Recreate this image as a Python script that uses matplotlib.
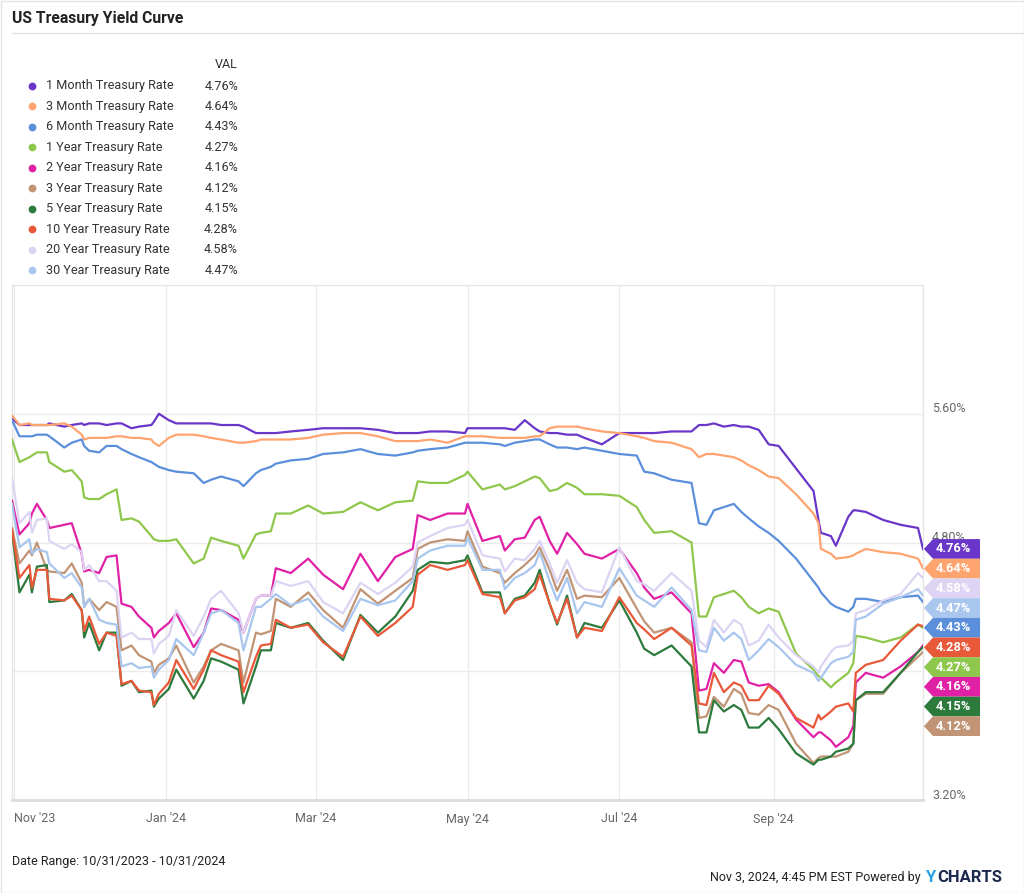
import matplotlib
matplotlib.use("Agg")
import matplotlib.pyplot as plt
from matplotlib.patches import Polygon
from matplotlib.transforms import blended_transform_factory
import pandas as pd

plt.rcParams["font.family"] = ["Roboto", "DejaVu Sans"]

dates = pd.to_datetime([
    "2023-10-31", "2023-11-03", "2023-11-07", "2023-11-08", "2023-11-10", "2023-11-14", "2023-11-15", "2023-11-21", "2023-11-24", "2023-11-28",
    "2023-11-29", "2023-12-01", "2023-12-05", "2023-12-08", "2023-12-12", "2023-12-14", "2023-12-18", "2023-12-21", "2023-12-26", "2023-12-27",
    "2023-12-29", "2024-01-02", "2024-01-05", "2024-01-12", "2024-01-16", "2024-01-19", "2024-01-23", "2024-01-30", "2024-02-01", "2024-02-06",
    "2024-02-08", "2024-02-12", "2024-02-14", "2024-02-20", "2024-02-27", "2024-03-04", "2024-03-12", "2024-03-19", "2024-03-26", "2024-04-02",
    "2024-04-09", "2024-04-11", "2024-04-16", "2024-04-23", "2024-04-30", "2024-05-01", "2024-05-07", "2024-05-14", "2024-05-16", "2024-05-20",
    "2024-05-24", "2024-05-28", "2024-05-30", "2024-06-03", "2024-06-06", "2024-06-10", "2024-06-14", "2024-06-17", "2024-06-24", "2024-07-01",
    "2024-07-08", "2024-07-11", "2024-07-15", "2024-07-22", "2024-07-30", "2024-08-02", "2024-08-05", "2024-08-08", "2024-08-12", "2024-08-16",
    "2024-08-19", "2024-08-22", "2024-08-26", "2024-08-30", "2024-09-03", "2024-09-10", "2024-09-17", "2024-09-19", "2024-09-20", "2024-09-24",
    "2024-09-26", "2024-10-01", "2024-10-03", "2024-10-04", "2024-10-08", "2024-10-15", "2024-10-22", "2024-10-29", "2024-10-31",
])

rate_1m = [
    5.57, 5.53, 5.53, 5.53, 5.53, 5.53, 5.54, 5.52, 5.53, 5.54,
    5.53, 5.54, 5.54, 5.53, 5.54, 5.54, 5.51, 5.52, 5.53, 5.55,
    5.60, 5.56, 5.54, 5.54, 5.54, 5.54, 5.53, 5.53, 5.52, 5.48,
    5.48, 5.48, 5.48, 5.49, 5.50, 5.51, 5.51, 5.51, 5.50, 5.48,
    5.48, 5.48, 5.49, 5.49, 5.48, 5.51, 5.51, 5.51, 5.51, 5.50,
    5.56, 5.51, 5.49, 5.48, 5.48, 5.47, 5.47, 5.45, 5.41, 5.48,
    5.48, 5.48, 5.48, 5.49, 5.49, 5.53, 5.53, 5.54, 5.52, 5.53,
    5.52, 5.52, 5.50, 5.41, 5.40, 5.26, 5.12, 4.94, 4.86, 4.84,
    4.78, 4.96, 5.00, 5.00, 4.99, 4.94, 4.91, 4.89, 4.76,
]
rate_3m = [
    5.59, 5.53, 5.54, 5.53, 5.53, 5.53, 5.53, 5.54, 5.52, 5.47,
    5.44, 5.45, 5.45, 5.45, 5.46, 5.46, 5.45, 5.45, 5.44, 5.42,
    5.40, 5.45, 5.47, 5.47, 5.46, 5.45, 5.44, 5.42, 5.42, 5.43,
    5.44, 5.44, 5.44, 5.44, 5.45, 5.47, 5.48, 5.48, 5.46, 5.43,
    5.43, 5.43, 5.44, 5.42, 5.46, 5.46, 5.46, 5.45, 5.45, 5.45,
    5.45, 5.46, 5.46, 5.51, 5.52, 5.52, 5.52, 5.51, 5.49, 5.48,
    5.46, 5.45, 5.43, 5.42, 5.38, 5.33, 5.35, 5.35, 5.34, 5.33,
    5.31, 5.28, 5.25, 5.21, 5.20, 5.10, 4.98, 4.92, 4.76, 4.73,
    4.70, 4.71, 4.72, 4.73, 4.76, 4.74, 4.73, 4.70, 4.64,
]
rate_6m = [
    5.56, 5.46, 5.46, 5.46, 5.47, 5.47, 5.46, 5.39, 5.42, 5.44,
    5.40, 5.37, 5.36, 5.40, 5.40, 5.38, 5.35, 5.33, 5.30, 5.29,
    5.27, 5.25, 5.24, 5.23, 5.17, 5.19, 5.21, 5.18, 5.15, 5.23,
    5.25, 5.27, 5.29, 5.31, 5.32, 5.35, 5.36, 5.38, 5.35, 5.34,
    5.36, 5.37, 5.38, 5.39, 5.42, 5.42, 5.42, 5.41, 5.40, 5.42,
    5.43, 5.44, 5.44, 5.41, 5.39, 5.39, 5.38, 5.39, 5.37, 5.35,
    5.34, 5.24, 5.23, 5.19, 5.17, 4.92, 4.91, 5.00, 5.02, 5.04,
    4.99, 4.95, 4.90, 4.86, 4.81, 4.70, 4.56, 4.52, 4.49, 4.42,
    4.40, 4.37, 4.40, 4.45, 4.45, 4.43, 4.46, 4.47, 4.43,
]
rate_1y = [
    5.44, 5.30, 5.33, 5.34, 5.36, 5.36, 5.30, 5.24, 5.25, 5.18,
    5.08, 5.07, 5.07, 5.10, 5.13, 4.94, 4.95, 4.93, 4.84, 4.82,
    4.81, 4.81, 4.82, 4.67, 4.70, 4.83, 4.81, 4.78, 4.70, 4.85,
    4.86, 4.87, 4.98, 4.98, 5.03, 4.98, 4.99, 5.05, 5.00, 5.05,
    5.06, 5.18, 5.17, 5.17, 5.22, 5.24, 5.13, 5.16, 5.13, 5.15,
    5.18, 5.21, 5.20, 5.12, 5.13, 5.17, 5.14, 5.10, 5.10, 5.09,
    5.02, 4.94, 4.86, 4.87, 4.80, 4.34, 4.34, 4.46, 4.48, 4.50,
    4.46, 4.40, 4.36, 4.39, 4.37, 4.11, 4.01, 3.97, 3.96, 3.90,
    3.93, 3.99, 4.05, 4.22, 4.21, 4.18, 4.21, 4.29, 4.27,
]
rate_2y = [
    5.06, 4.85, 4.92, 4.98, 5.04, 4.94, 4.89, 4.91, 4.92, 4.73,
    4.62, 4.63, 4.61, 4.71, 4.72, 4.42, 4.40, 4.34, 4.27, 4.21,
    4.25, 4.30, 4.36, 4.15, 4.24, 4.39, 4.38, 4.32, 4.24, 4.45,
    4.47, 4.47, 4.64, 4.61, 4.70, 4.60, 4.51, 4.73, 4.56, 4.71,
    4.76, 4.97, 4.94, 4.98, 4.98, 5.04, 4.81, 4.84, 4.75, 4.82,
    4.83, 4.94, 4.96, 4.81, 4.73, 4.86, 4.79, 4.73, 4.70, 4.76,
    4.61, 4.52, 4.45, 4.49, 4.36, 3.88, 3.89, 4.05, 3.99, 4.07,
    4.06, 3.93, 3.91, 3.92, 3.87, 3.70, 3.59, 3.62, 3.62, 3.57,
    3.53, 3.59, 3.66, 3.93, 3.99, 3.96, 4.03, 4.12, 4.16,
]
rate_3y = [
    4.89, 4.67, 4.75, 4.72, 4.80, 4.63, 4.62, 4.61, 4.67, 4.55,
    4.40, 4.45, 4.38, 4.43, 4.40, 4.13, 4.16, 4.10, 4.06, 3.99,
    4.04, 4.08, 4.16, 3.93, 4.03, 4.13, 4.17, 4.13, 3.93, 4.24,
    4.23, 4.25, 4.45, 4.40, 4.49, 4.38, 4.27, 4.51, 4.42, 4.50,
    4.58, 4.76, 4.80, 4.82, 4.81, 4.87, 4.65, 4.61, 4.55, 4.61,
    4.66, 4.72, 4.77, 4.63, 4.50, 4.63, 4.45, 4.47, 4.46, 4.58,
    4.39, 4.31, 4.24, 4.27, 4.18, 3.71, 3.72, 3.84, 3.78, 3.89,
    3.86, 3.74, 3.73, 3.79, 3.76, 3.55, 3.43, 3.46, 3.47, 3.47,
    3.47, 3.50, 3.55, 3.82, 3.86, 3.86, 3.99, 4.09, 4.12,
]
rate_5y = [
    4.87, 4.49, 4.60, 4.49, 4.65, 4.66, 4.43, 4.44, 4.48, 4.38,
    4.21, 4.30, 4.13, 4.24, 4.24, 3.91, 3.94, 3.87, 3.88, 3.78,
    3.83, 3.89, 4.01, 3.83, 3.94, 4.08, 4.06, 4.01, 3.80, 4.03,
    4.13, 4.13, 4.30, 4.27, 4.30, 4.19, 4.07, 4.35, 4.24, 4.34,
    4.50, 4.63, 4.68, 4.67, 4.69, 4.72, 4.49, 4.49, 4.36, 4.45,
    4.47, 4.55, 4.63, 4.42, 4.29, 4.47, 4.21, 4.30, 4.27, 4.44,
    4.24, 4.14, 4.10, 4.16, 4.03, 3.62, 3.62, 3.82, 3.75, 3.79,
    3.76, 3.65, 3.65, 3.71, 3.64, 3.49, 3.42, 3.45, 3.45, 3.47,
    3.50, 3.52, 3.55, 3.82, 3.87, 3.87, 3.99, 4.12, 4.15,
]
rate_10y = [
    4.88, 4.58, 4.66, 4.52, 4.63, 4.63, 4.45, 4.44, 4.47, 4.38,
    4.25, 4.34, 4.17, 4.24, 4.22, 3.92, 3.94, 3.88, 3.87, 3.79,
    3.86, 3.93, 4.07, 3.89, 4.01, 4.13, 4.10, 4.06, 3.87, 4.09,
    4.16, 4.17, 4.32, 4.27, 4.29, 4.18, 4.09, 4.34, 4.22, 4.30,
    4.40, 4.60, 4.66, 4.63, 4.66, 4.69, 4.48, 4.46, 4.36, 4.44,
    4.46, 4.51, 4.60, 4.42, 4.30, 4.45, 4.21, 4.27, 4.25, 4.46,
    4.30, 4.26, 4.20, 4.27, 4.16, 3.80, 3.79, 3.99, 3.87, 3.93,
    3.91, 3.82, 3.82, 3.91, 3.86, 3.71, 3.65, 3.73, 3.70, 3.75,
    3.78, 3.80, 3.75, 3.99, 4.04, 4.07, 4.19, 4.29, 4.28,
]
rate_20y = [
    5.20, 4.92, 4.99, 4.86, 4.94, 4.95, 4.81, 4.76, 4.79, 4.74,
    4.63, 4.66, 4.56, 4.56, 4.50, 4.21, 4.24, 4.20, 4.20, 4.11,
    4.17, 4.22, 4.38, 4.22, 4.34, 4.45, 4.50, 4.36, 4.24, 4.45,
    4.47, 4.47, 4.56, 4.53, 4.56, 4.43, 4.36, 4.55, 4.48, 4.55,
    4.65, 4.80, 4.84, 4.89, 4.91, 4.94, 4.72, 4.70, 4.62, 4.70,
    4.69, 4.76, 4.81, 4.67, 4.55, 4.69, 4.55, 4.51, 4.49, 4.77,
    4.56, 4.54, 4.50, 4.61, 4.50, 4.19, 4.15, 4.32, 4.24, 4.32,
    4.29, 4.16, 4.19, 4.29, 4.21, 4.10, 4.03, 3.99, 4.03, 4.12,
    4.15, 4.16, 4.19, 4.36, 4.38, 4.44, 4.48, 4.61, 4.58,
]
rate_30y = [
    5.04, 4.77, 4.82, 4.73, 4.76, 4.74, 4.67, 4.58, 4.61, 4.52,
    4.40, 4.45, 4.32, 4.30, 4.29, 4.03, 4.05, 4.02, 4.03, 3.96,
    4.01, 4.07, 4.20, 4.10, 4.24, 4.36, 4.38, 4.30, 4.13, 4.40,
    4.40, 4.45, 4.48, 4.41, 4.45, 4.34, 4.25, 4.45, 4.41, 4.44,
    4.56, 4.70, 4.75, 4.78, 4.78, 4.83, 4.63, 4.63, 4.51, 4.58,
    4.61, 4.66, 4.74, 4.56, 4.44, 4.58, 4.36, 4.43, 4.40, 4.64,
    4.47, 4.44, 4.40, 4.52, 4.38, 4.13, 4.12, 4.27, 4.19, 4.24,
    4.20, 4.07, 4.13, 4.20, 4.15, 4.04, 3.99, 3.94, 3.96, 4.05,
    4.07, 4.09, 4.12, 4.32, 4.34, 4.42, 4.46, 4.51, 4.47,
]

series_names = [
    "1 Month Treasury Rate", "3 Month Treasury Rate", "6 Month Treasury Rate",
    "1 Year Treasury Rate", "2 Year Treasury Rate", "3 Year Treasury Rate",
    "5 Year Treasury Rate", "10 Year Treasury Rate", "20 Year Treasury Rate",
    "30 Year Treasury Rate",
]
series_values = [rate_1m, rate_3m, rate_6m, rate_1y, rate_2y, rate_3y,
                 rate_5y, rate_10y, rate_20y, rate_30y]
series_colors = ["#6a36c9", "#ffa36f", "#5b8fdb", "#8fc74c", "#e021a6",
                 "#c09474", "#2c7a3c", "#e8593a", "#ddd3f2", "#a9c6ee"]
last_values = [4.76, 4.64, 4.43, 4.27, 4.16, 4.12, 4.15, 4.28, 4.58, 4.47]

y_grid = [3.20, 4.00, 4.80, 5.60]
y_labels_shown = [3.20, 4.80, 5.60]  # 4.00% sits under the value tags
x_ticks = pd.to_datetime(["2023-11-01", "2024-01-01", "2024-03-01",
                          "2024-05-01", "2024-07-01", "2024-09-01"])
x_labels = ["Nov '23", "Jan '24", "Mar '24", "May '24", "Jul '24", "Sep '24"]

W, H = 1024, 893
fig = plt.figure(figsize=(W / 100, H / 100), dpi=100)
fig.patch.set_facecolor("white")

# page overlay in pixel coordinates for title, legend table and footer
page = fig.add_axes([0, 0, 1, 1])
page.set_xlim(0, W)
page.set_ylim(H, 0)
page.axis("off")
page.add_patch(plt.Rectangle((0.5, 0.5), W - 1, H - 1, fill=False,
                             edgecolor="#e4e4e4", lw=1))

page.text(12, 19, "US Treasury Yield Curve", fontsize=11.3, fontweight="bold",
          color="#222222", va="center", ha="left")
page.plot([12, W], [33, 33], color="#e3e3e3", lw=1)

page.text(238, 65, "VAL", fontsize=9.1, color="#333333", va="center", ha="right")
row_y0, row_step = 86, 20.45
for i, (name, col, val) in enumerate(zip(series_names, series_colors, last_values)):
    yy = row_y0 + i * row_step
    page.plot(31.7, yy, "o", color=col, markersize=5.6, markeredgewidth=0)
    page.text(46, yy, name, fontsize=9.1, color="#333333", va="center", ha="left")
    page.text(238, yy, f"{val:.2f}%", fontsize=9.1, color="#333333",
              va="center", ha="right")

page.text(12, 862, "Date Range: 10/31/2023 - 10/31/2024", fontsize=9,
          color="#222222", va="center", ha="left")
page.text(921, 877, "Nov 3, 2024, 4:45 PM EST Powered by", fontsize=9,
          color="#222222", va="center", ha="right")
page.text(925, 877, "Y", fontsize=12, fontweight="bold", color="#2ba0e3",
          va="center", ha="left")
page.text(937, 877, "CHARTS", fontsize=12, fontweight="bold", color="#1d2a4f",
          va="center", ha="left")

# main chart
ax = fig.add_axes([12 / W, 1 - 800 / H, 911 / W, 515 / H])
ax.set_zorder(2)
ax.patch.set_alpha(0)
for vals, col in zip(series_values, series_colors):
    ax.plot(dates, vals, color=col, lw=1.6, solid_joinstyle="round", zorder=3)

ax.set_xlim(pd.Timestamp("2023-10-31"), pd.Timestamp("2024-10-31"))
ax.set_ylim(3.2, 6.4)
ax.set_yticks(y_grid)
ax.set_xticks(x_ticks)
ax.set_xticklabels(x_labels)
ax.tick_params(axis="both", length=0)
ax.tick_params(axis="x", labelsize=9, labelcolor="#666666", pad=9)
ax.set_yticklabels([])
ax.get_xticklabels()[0].set_horizontalalignment("left")
ax.grid(True, color="#ebebeb", lw=1)
ax.set_axisbelow(True)
for side in ["left", "top", "right"]:
    ax.spines[side].set_color("#e6e6e6")
    ax.spines[side].set_linewidth(1)
ax.spines["bottom"].set_color("#dcdcdc")
ax.spines["bottom"].set_linewidth(2)

blend = blended_transform_factory(ax.transAxes, ax.transData)
for v in y_labels_shown:
    ax.text(1.0099, v + 0.031, f"{v:.2f}%", transform=blend, fontsize=9,
            color="#666666", va="center", ha="left", clip_on=False, zorder=4)

# value tags on the right, stacked so they do not overlap
tag_h = 19.7 / 161.0
order = sorted(range(len(last_values)), key=lambda i: -last_values[i])
prev = None
for i in order:
    pos = last_values[i] if prev is None else min(last_values[i], prev - tag_h)
    prev = pos
    x0, xb, x1 = 1.001, 1.011, 1.0626
    poly = Polygon([(x0, pos), (xb, pos + tag_h / 2), (x1, pos + tag_h / 2),
                    (x1, pos - tag_h / 2), (xb, pos - tag_h / 2)],
                   closed=True, transform=blend, facecolor=series_colors[i],
                   edgecolor="none", clip_on=False, zorder=6)
    ax.add_patch(poly)
    ax.text(1.0335, pos, f"{last_values[i]:.2f}%", transform=blend, fontsize=9.3,
            fontweight="bold", color="white", va="center", ha="center",
            clip_on=False, zorder=7)

fig.savefig("out.png", dpi=100)
